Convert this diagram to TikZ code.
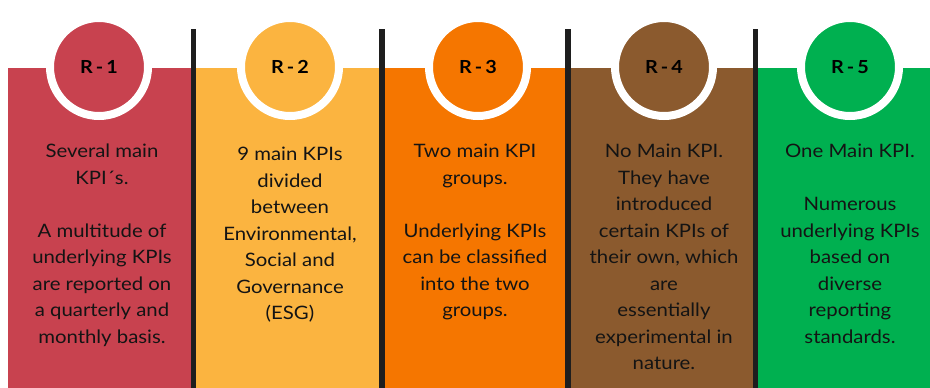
\documentclass[tikz,border=0pt]{standalone}
\usepackage{fontspec}
\setmainfont{Lato}[FakeStretch=1.1]
\usetikzlibrary{positioning}

\definecolor{rone}{HTML}{C8424F}
\definecolor{rtwo}{HTML}{FBB440}
\definecolor{rthree}{HTML}{F57600}
\definecolor{rfour}{HTML}{8B5A2E}
\definecolor{rfive}{HTML}{00B050}
\definecolor{barblack}{HTML}{1E1E1E}
\definecolor{txt}{HTML}{141414}

\tikzset{
    badge/.style={circle,minimum size=98pt,inner sep=0pt,draw=white,line width=8pt,
        text=black,font=\fontsize{18}{20}\selectfont\bfseries},
    blurb/.style={align=center,inner sep=0pt,text=txt,
        font=\fontsize{18.5}{26.5}\selectfont},
}

\begin{document}
\begin{tikzpicture}[x=1pt,y=-1pt]
        \useasboundingbox (0,0) rectangle (930,388);
        \fill[white] (0,0) rectangle (930,388);
        % coloured panels
        \foreach \xa/\xb/\col in {8/193/rone,193/382/rtwo,382/568/rthree,568/755/rfour,755/930/rfive}
            \fill[\col] (\xa,68) rectangle (\xb,388);
        % separators
        \foreach \x in {193.5,382,568,755.5}
            \fill[barblack] (\x-2.75,29) rectangle (\x+2.75,388);
        % badges
        \node[badge,fill=rone] (r1) at (99,67) {R\,-\,1};
        \node[badge,fill=rtwo] (r2) at (290,67) {R\,-\,2};
        \node[badge,fill=rthree] (r3) at (478,67) {R\,-\,3};
        \node[badge,fill=rfour] (r4) at (664,67) {R\,-\,4};
        \node[badge,fill=rfive] (r5) at (850,67) {R\,-\,5};
        % texts
        \node[blurb,below=24pt of r1,xshift=3pt] (t1) {Several main\\KPI´s.\\[26.5pt] A multitude of\\underlying KPIs\\are reported on\\a quarterly and\\monthly basis.};
        \node[blurb,below=27pt of r2] (t2) {9 main KPIs\\divided\\between\\Environmental,\\Social and\\Governance\\(ESG)};
        \node[blurb,below=24pt of r3,xshift=-3pt] (t3) {Two main KPI\\groups.\\[26.5pt] Underlying KPIs\\can be classified\\into the two\\groups.};
        \node[blurb,below=24pt of r4] (t4) {No Main KPI.\\They have\\introduced\\certain KPIs of\\their own, which\\are\\essentially\\experimental in\\nature.};
        \node[blurb,below=24pt of r5] (t5) {One Main KPI.\\[26.5pt] Numerous\\underlying KPIs\\based on\\diverse\\reporting\\standards.};
    \end{tikzpicture}
\end{document}
